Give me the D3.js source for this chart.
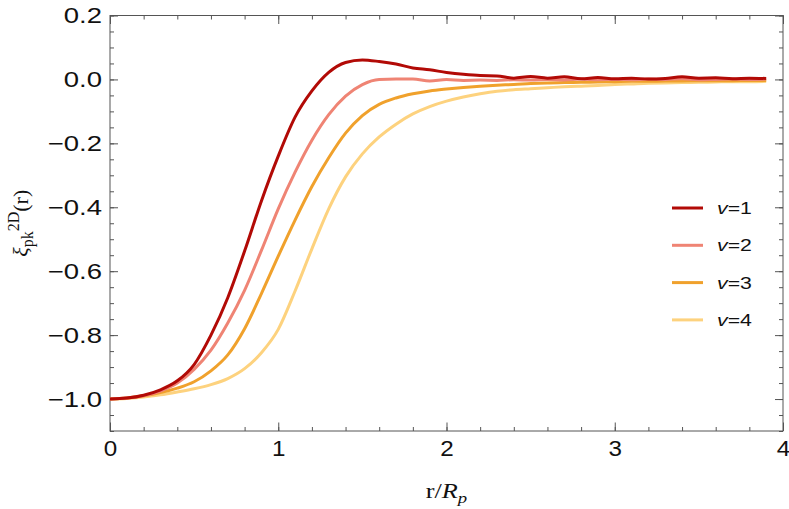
<!DOCTYPE html>
<html>
<head>
<meta charset="utf-8">
<script src="https://cdn.jsdelivr.net/npm/d3@7"></script>
<style>
  html, body { margin: 0; padding: 0; background: #fff; }
  svg { display: block; }
</style>
</head>
<body>
<div id="chart"></div>
<script>
/* ── data ───────────────────────────────────────────── */
const rValues = [0.0,0.1,0.2,0.3,0.4,0.5,0.6,0.7,0.8,0.9,
                 1.0,1.1,1.2,1.3,1.4,1.5,1.6,1.7,1.8,1.9,
                 2.0,2.1,2.2,2.3,2.4,2.5,2.6,2.7,2.8,2.9,
                 3.0,3.1,3.2,3.3,3.4,3.5,3.6,3.7,3.8,3.9];

const xiV1 = [-1.000,-0.997,-0.988,-0.971,-0.943,-0.892,-0.800,-0.683,-0.537,-0.380,
              -0.240,-0.118,-0.036, 0.022, 0.053, 0.061, 0.056, 0.048, 0.036, 0.030,
               0.022, 0.016, 0.012, 0.011, 0.004, 0.009, 0.004, 0.008, 0.002, 0.006,
               0.002, 0.004, 0.001, 0.003, 0.008, 0.004, 0.005, 0.002, 0.004, 0.003];

const xiV2 = [-1.000,-0.997,-0.990,-0.975,-0.950,-0.907,-0.847,-0.762,-0.660,-0.535,
              -0.405,-0.290,-0.190,-0.110,-0.052,-0.016, 0.000, 0.001, 0.001,-0.005,
               0.000,-0.003,-0.002,-0.003,-0.001,-0.002, 0.000,-0.002, 0.001,-0.001,
               0.000,-0.001, 0.001, 0.000, 0.002,-0.001, 0.000, 0.001, 0.000, 0.001];

const xiV3 = [-1.000,-0.997,-0.990,-0.980,-0.966,-0.946,-0.912,-0.862,-0.780,-0.670,
              -0.553,-0.440,-0.335,-0.245,-0.168,-0.113,-0.078,-0.058,-0.045,-0.036,
              -0.030,-0.025,-0.021,-0.018,-0.016,-0.013,-0.011,-0.010,-0.009,-0.008,
              -0.007,-0.006,-0.006,-0.005,-0.005,-0.004,-0.004,-0.004,-0.003,-0.003];

const xiV4 = [-1.000,-0.998,-0.994,-0.987,-0.978,-0.968,-0.955,-0.936,-0.905,-0.855,
              -0.782,-0.662,-0.530,-0.405,-0.305,-0.233,-0.180,-0.140,-0.108,-0.085,
              -0.068,-0.055,-0.045,-0.037,-0.032,-0.029,-0.026,-0.023,-0.021,-0.019,
              -0.016,-0.014,-0.012,-0.011,-0.010,-0.009,-0.008,-0.007,-0.007,-0.006];

const seriesNames  = ["1", "2", "3", "4"];
const seriesColors = ["#b20a06", "#ef8474", "#f0a12c", "#fdd27e"];

const xTicks = [0, 1, 2, 3, 4];
const yTicks = [-1.0, -0.8, -0.6, -0.4, -0.2, 0.0, 0.2];

/* ── layout ─────────────────────────────────────────── */
const W = 789, H = 509;
const margin = { top: 15.5, right: 6, bottom: 78, left: 110 };
const w = W - margin.left - margin.right;
const h = H - margin.top - margin.bottom;
const stretch = 1.25;   // glyphs in the original are wide

const x = d3.scaleLinear().domain([0, 4]).range([0, w]);
const y = d3.scaleLinear().domain([-1.1, 0.2]).range([h, 0]);

const svg = d3.select("#chart").append("svg")
  .attr("width", W).attr("height", H);

const g = svg.append("g").attr("transform", `translate(${margin.left},${margin.top})`);

const fmt = d => (d < 0 ? "\u2212" : "") + Math.abs(d).toFixed(1);
const frameColor = "#555";

// minor ticks
const xMinor = d3.range(0, 4.0001, 0.2).map(v => +v.toFixed(2));
const yMinor = d3.range(-1.1, 0.2001, 0.05).map(v => +v.toFixed(2));

// frame axes (ticks pointing inward)
function styleAxis(sel, sx = stretch) {
  sel.select(".domain").remove();
  sel.selectAll(".tick line").attr("stroke", frameColor).attr("stroke-width", 1);
  sel.selectAll(".tick text")
    .attr("fill", "#111")
    .attr("font-family", "'Liberation Sans', Arial, sans-serif")
    .attr("font-size", "22px")
    .attr("transform", `scale(${sx},1)`);
}

// bottom
g.append("g").attr("transform", `translate(0,${h})`)
  .call(d3.axisBottom(x).tickValues(xMinor).tickSizeInner(-4).tickSizeOuter(0).tickFormat(""))
  .call(styleAxis);
g.append("g").attr("transform", `translate(0,${h})`)
  .call(d3.axisBottom(x).tickValues(xTicks).tickSizeInner(-8.5).tickSizeOuter(0).tickPadding(9).tickFormat(d3.format("d")))
  .call(styleAxis, 1.1);
// top
g.append("g")
  .call(d3.axisTop(x).tickValues(xMinor).tickSizeInner(-4).tickSizeOuter(0).tickFormat(""))
  .call(styleAxis);
g.append("g")
  .call(d3.axisTop(x).tickValues(xTicks).tickSizeInner(-8.5).tickSizeOuter(0).tickFormat(""))
  .call(styleAxis);
// left
g.append("g")
  .call(d3.axisLeft(y).tickValues(yMinor).tickSizeInner(-4).tickSizeOuter(0).tickFormat(""))
  .call(styleAxis);
g.append("g")
  .call(d3.axisLeft(y).tickValues(yTicks).tickSizeInner(-8).tickSizeOuter(0).tickPadding(6.4).tickFormat(fmt))
  .call(styleAxis);
// right
g.append("g").attr("transform", `translate(${w},0)`)
  .call(d3.axisRight(y).tickValues(yMinor).tickSizeInner(-4).tickSizeOuter(0).tickFormat(""))
  .call(styleAxis);
g.append("g").attr("transform", `translate(${w},0)`)
  .call(d3.axisRight(y).tickValues(yTicks).tickSizeInner(-8).tickSizeOuter(0).tickFormat(""))
  .call(styleAxis);

// frame
g.append("rect")
  .attr("x", 0).attr("y", 0).attr("width", w).attr("height", h)
  .attr("fill", "none").attr("stroke", frameColor).attr("stroke-width", 1);

/* ── curves ─────────────────────────────────────────── */
const series = [xiV1, xiV2, xiV3, xiV4];
const line = d3.line()
  .x((d, i) => x(rValues[i]))
  .y(d => y(d))
  .curve(d3.curveMonotoneX);

const plot = g.append("g");
// lightest first so the darker curves sit on top
for (let k = series.length - 1; k >= 0; k--) {
  plot.append("path")
    .datum(series[k])
    .attr("fill", "none")
    .attr("stroke", seriesColors[k])
    .attr("stroke-width", 3)
    .attr("stroke-linejoin", "round")
    .attr("d", line);
}

/* ── legend ─────────────────────────────────────────── */
const legend = svg.append("g").attr("transform", "translate(672,208)");
seriesNames.forEach((name, i) => {
  const row = legend.append("g").attr("transform", `translate(0,${i * 37.3})`);
  row.append("line")
    .attr("x1", 0).attr("x2", 31).attr("y1", 0).attr("y2", 0)
    .attr("stroke", seriesColors[i]).attr("stroke-width", 3);
  const t = row.append("text")
    .attr("transform", `translate(45,6) scale(${stretch},1)`)
    .attr("font-family", "'Liberation Sans', Arial, sans-serif")
    .attr("font-size", "17px").attr("fill", "#111");
  t.append("tspan").attr("font-style", "italic").text("v");
  t.append("tspan").text("=" + name);
});

/* ── axis labels ────────────────────────────────────── */
const xl = svg.append("text")
  .attr("transform", `translate(${margin.left + w / 2},498) scale(${stretch},1)`)
  .attr("text-anchor", "middle")
  .attr("font-family", "'Liberation Serif', 'Times New Roman', serif")
  .attr("font-size", "21px").attr("fill", "#111");
xl.append("tspan").text("r/");
xl.append("tspan").attr("font-style", "italic").text("R");
xl.append("tspan").attr("font-style", "italic").attr("font-size", "15px").attr("dy", 5).text("p");

const yl = svg.append("text")
  .attr("transform", `translate(28,${margin.top + y(-0.45)}) rotate(-90)`)
  .attr("text-anchor", "middle")
  .attr("font-family", "'Liberation Serif', 'Times New Roman', serif")
  .attr("font-size", "22px").attr("fill", "#111");
yl.append("tspan").attr("font-style", "italic").text("\u03be");
yl.append("tspan").attr("font-size", "16px").attr("dy", 5).text("pk");
yl.append("tspan").attr("font-size", "16px").attr("dy", -14).text("2D");
yl.append("tspan").attr("dy", 9).text("(r)");
</script>
</body>
</html>
